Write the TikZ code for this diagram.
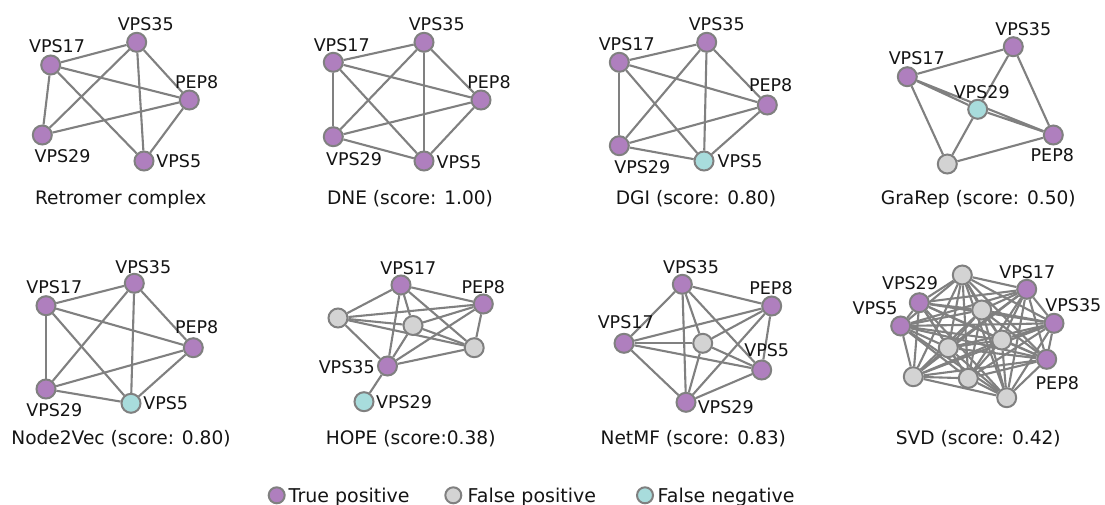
\documentclass[tikz,border=0pt]{standalone}
\usepackage{fontspec}
\setmainfont{DejaVu Sans}
\usetikzlibrary{backgrounds}
\definecolor{tp}{RGB}{175,127,190}
\definecolor{fp}{RGB}{211,211,211}
\definecolor{fn}{RGB}{168,220,220}
\definecolor{edgegray}{RGB}{128,128,128}
\definecolor{txt}{RGB}{20,20,20}
% every pair of nodes prefix1..prefixN joined by an edge
\newcommand\kgraph[2]{%
  \foreach \i in {1,...,#2}{\foreach \j in {1,...,#2}{%
    \ifnum\i<\j \draw[edge] (#1\i) -- (#1\j);\fi}}}
\begin{document}
\begin{tikzpicture}[x=1pt,y=-1pt,
  vtx/.style={circle,draw=edgegray,line width=2pt,minimum size=19pt,inner sep=0pt},
  tpos/.style={vtx,fill=tp}, fpos/.style={vtx,fill=fp}, fneg/.style={vtx,fill=fn},
  edge/.style={draw=edgegray,line width=2.1pt},
  lbl/.style={font=\fontsize{17.5}{20}\selectfont,inner sep=0pt,text height=12.8pt,text depth=0pt,text=txt},
  ttl/.style={font=\fontsize{18.6}{22}\selectfont,inner sep=0pt,text height=13.5pt,text depth=0pt,text=txt},
  keytxt/.style={font=\fontsize{19}{22}\selectfont,inner sep=0pt,text height=13.8pt,text depth=0pt,text=txt,anchor=west},
  key/.style={circle,draw=edgegray,line width=2pt,minimum size=16pt,inner sep=0pt}]
\path[use as bounding box] (0,0) rectangle (1105,504);

% ---------- Retromer complex ----------
\node[tpos] (a1) at (136.7,42.3) {};
\node[tpos] (a2) at (50.7,65) {};
\node[tpos] (a3) at (189.3,100) {};
\node[tpos] (a4) at (42.3,135) {};
\node[tpos] (a5) at (144,161) {};
\node[lbl] (a1l) at (145.7,24) {VPS35};
\node[lbl] (a2l) at (57,46) {VPS17};
\node[lbl] (a3l) at (196.7,81.7) {PEP8};
\node[lbl] (a4l) at (62.5,156.3) {VPS29};
\node[lbl] (a5l) at (178.8,161.5) {VPS5};
\node[ttl] (at) at (120.7,197.3) {Retromer complex};

% ---------- DNE ----------
\node[tpos] (b1) at (424,42.3) {};
\node[tpos] (b2) at (333.3,62.3) {};
\node[tpos] (b3) at (481,100) {};
\node[tpos] (b4) at (333.3,136.7) {};
\node[tpos] (b5) at (424,161) {};
\node[lbl] (b1l) at (436.7,24) {VPS35};
\node[lbl] (b2l) at (341.7,45) {VPS17};
\node[lbl] (b3l) at (489,81.7) {PEP8};
\node[lbl] (b4l) at (354,159.3) {VPS29};
\node[lbl] (b5l) at (459,161.7) {VPS5};
\node[ttl] (bt) at (410,197.3) {DNE (score: 1.00)};

% ---------- DGI ----------
\node[tpos] (c1) at (706.7,42.3) {};
\node[tpos] (c2) at (619.3,62.3) {};
\node[tpos] (c3) at (767.3,105) {};
\node[tpos] (c4) at (619.3,145.7) {};
\node[fneg] (c5) at (704,161) {};
\node[lbl] (c1l) at (716.7,24) {VPS35};
\node[lbl] (c2l) at (626.7,44.3) {VPS17};
\node[lbl] (c3l) at (770.7,85) {PEP8};
\node[lbl] (c4l) at (642.3,166.7) {VPS29};
\node[lbl] (c5l) at (740,161) {VPS5};
\node[ttl] (ct) at (696,197.3) {DGI (score: 0.80)};

% ---------- GraRep ----------
\node[tpos] (d1) at (1013.3,46.7) {};
\node[tpos] (d2) at (907.3,76.7) {};
\node[fneg] (d3) at (977.7,109.3) {};
\node[tpos] (d4) at (1053.3,135) {};
\node[fpos] (d5) at (947.3,164) {};
\node[ttl] (dt) at (978.3,197.3) {GraRep (score: 0.50)};

% ---------- Node2Vec ----------
\node[tpos] (e1) at (134.3,283.3) {};
\node[tpos] (e2) at (46,305.7) {};
\node[tpos] (e3) at (193.3,347.7) {};
\node[tpos] (e4) at (46,389) {};
\node[fneg] (e5) at (131,403.3) {};
\node[lbl] (e1l) at (143.3,266.7) {VPS35};
\node[lbl] (e2l) at (54.3,286.7) {VPS17};
\node[lbl] (e3l) at (196.7,327.3) {PEP8};
\node[lbl] (e4l) at (54.3,410) {VPS29};
\node[lbl] (e5l) at (165.7,403.3) {VPS5};
\node[ttl] (et) at (121,437.3) {Node2Vec (score: 0.80)};

% ---------- HOPE ----------
\node[tpos] (f1) at (401,285) {};
\node[tpos] (f2) at (483.3,304) {};
\node[fpos] (f3) at (338,318) {};
\node[fpos] (f4) at (413,325.5) {};
\node[fpos] (f5) at (474.2,347.7) {};
\node[tpos] (f6) at (387.5,366) {};
\node[fneg] (f7) at (364,401.7) {};
\node[lbl] (f1l) at (408.3,268.3) {VPS17};
\node[lbl] (f2l) at (483.3,286.7) {PEP8};
\node[lbl] (f6l) at (346.7,366.7) {VPS35};
\node[lbl] (f7l) at (404,401.7) {VPS29};
\node[ttl] (ft) at (410.7,437.3) {HOPE (score:0.38)};

% ---------- NetMF ----------
\node[tpos] (g1) at (682.3,284.3) {};
\node[tpos] (g2) at (771.7,306) {};
\node[tpos] (g3) at (624,343.3) {};
\node[fpos] (g4) at (702.7,343.3) {};
\node[tpos] (g5) at (761.7,370) {};
\node[tpos] (g6) at (686,402.3) {};
\node[lbl] (g1l) at (691,266.7) {VPS35};
\node[lbl] (g2l) at (771,287.7) {PEP8};
\node[lbl] (g3l) at (625.7,321.7) {VPS17};
\node[lbl] (g5l) at (766.7,350) {VPS5};
\node[lbl] (g6l) at (725.7,406.7) {VPS29};
\node[ttl] (gt) at (693.3,437.3) {NetMF (score: 0.83)};

% ---------- SVD ----------
\node[fpos] (h1) at (962.3,275) {};
\node[tpos] (h2) at (1026.7,289.3) {};
\node[tpos] (h3) at (919.3,302.7) {};
\node[fpos] (h4) at (981.7,310) {};
\node[tpos] (h5) at (900.7,326) {};
\node[tpos] (h6) at (1054,323.3) {};
\node[fpos] (h7) at (1001.7,340) {};
\node[fpos] (h8) at (948.3,347.7) {};
\node[tpos] (h9) at (1046.7,359.3) {};
\node[fpos] (h10) at (913.3,376.7) {};
\node[fpos] (h11) at (968.3,378.3) {};
\node[fpos] (h12) at (1006.7,397.7) {};
\node[lbl] (h2l) at (1027.3,271.7) {VPS17};
\node[lbl] (h3l) at (910,283.3) {VPS29};
\node[lbl] (h5l) at (875,308.3) {VPS5};
\node[lbl] (h6l) at (1073.3,305) {VPS35};
\node[lbl] (h9l) at (1057.3,382.7) {PEP8};
\node[ttl] (ht) at (978.3,437.3) {SVD (score: 0.42)};

% ---------- edges, under the nodes ----------
\begin{pgfonlayer}{background}
  \fill[white] (0,0) rectangle (1105,504);
  \draw[edge] (a1) -- (a2) (a1) -- (a3) (a1) -- (a4) (a1) -- (a5)
              (a2) -- (a3) (a2) -- (a4) (a2) -- (a5) (a3) -- (a4) (a3) -- (a5);
  \kgraph{b}{5}
  \kgraph{c}{5}
  \draw[edge] (d2) -- (d1) (d2) -- (d3) (d2) -- (d4) (d2) -- (d5)
              (d1) -- (d3) (d1) -- (d4) (d3) -- (d4) (d3) -- (d5) (d5) -- (d4);
  \kgraph{e}{5}
  \kgraph{f}{6}
  \draw[edge] (f6) -- (f7);
  \kgraph{g}{6}
  \kgraph{h}{12}
\end{pgfonlayer}

% GraRep labels sit above the edges
\node[lbl] (d1l) at (1023.3,29.3) {VPS35};
\node[lbl] (d2l) at (916.7,58.3) {VPS17};
\node[lbl] (d3l) at (981.7,92.3) {VPS29};
\node[lbl] (d4l) at (1052.3,155) {PEP8};

% ---------- legend ----------
\node[key,fill=tp] (k1) at (276.7,495.3) {};
\node[keytxt] (k1t) at (288.5,496) {True positive};
\node[key,fill=fp] (k2) at (453.3,495.3) {};
\node[keytxt] (k2t) at (467.5,496) {False positive};
\node[key,fill=fn] (k3) at (645,495.3) {};
\node[keytxt] (k3t) at (657.5,496) {False negative};
\end{tikzpicture}
\end{document}
